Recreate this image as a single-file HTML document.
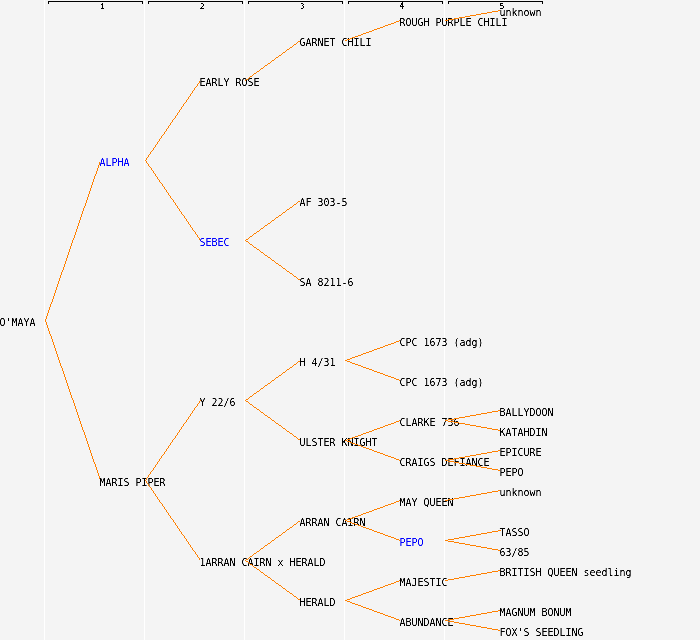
<!DOCTYPE html>
<html lang="en"><head><meta charset="utf-8"><title>Pedigree of O'MAYA</title>
<style>
html,body{margin:0;padding:0;background:#f4f4f4;overflow:hidden}
svg{display:block;shape-rendering:crispEdges}
text{font-family:"DejaVu Sans Mono", "Liberation Mono", monospace;font-size:9.967px;fill:#000;white-space:pre;}
text.b{fill:#00f;}
text.t{font-family:"DejaVu Sans Mono", "Liberation Mono", monospace;font-size:8.2px;font-weight:normal;stroke:none}
path.o{fill:#ff8000}
</style></head><body>
<svg width="700" height="640" viewBox="0 0 700 640">
<defs><filter id="f" filterUnits="userSpaceOnUse" x="0" y="0" width="700" height="640" color-interpolation-filters="sRGB"><feComponentTransfer><feFuncA type="table" tableValues="0 0 0.6 1 1"/></feComponentTransfer></filter><filter id="f2" filterUnits="userSpaceOnUse" x="0" y="0" width="700" height="12" color-interpolation-filters="sRGB"><feComponentTransfer><feFuncA type="discrete" tableValues="0 1"/></feComponentTransfer></filter><filter id="f3" filterUnits="userSpaceOnUse" x="0" y="0" width="700" height="12" color-interpolation-filters="sRGB"><feComponentTransfer><feFuncA type="discrete" tableValues="0 0 1 1 1"/></feComponentTransfer></filter></defs><rect width="700" height="640" fill="#f4f4f4"/>
<g><rect x="44" y="0" width="1" height="640" fill="#fff"/><path d="M48 1h95v3h-1v-2h-93v2h-1z"/><rect x="144" y="0" width="1" height="640" fill="#fff"/><path d="M148 1h95v3h-1v-2h-93v2h-1z"/><rect x="244" y="0" width="1" height="640" fill="#fff"/><path d="M248 1h95v3h-1v-2h-93v2h-1z"/><rect x="344" y="0" width="1" height="640" fill="#fff"/><path d="M348 1h95v3h-1v-2h-93v2h-1z"/><rect x="444" y="0" width="1" height="640" fill="#fff"/><path d="M448 1h95v3h-1v-2h-93v2h-1z"/></g>
<g><text class="t" filter="url(#f3)" style="font-size:7px;font-weight:bold" transform="scale(1,1.1)" x="100.25" y="7.955">1</text><text class="t" filter="url(#f3)" style="font-size:7px;font-weight:normal" transform="scale(1,1.1)" x="200" y="7.955">2</text><text class="t" filter="url(#f2)" style="font-size:7px;font-weight:normal" transform="scale(1,1.2)" x="300.25" y="7.292">3</text><text class="t" filter="url(#f3)" style="font-size:7.5px;font-weight:bold" transform="scale(1,1.2)" x="399.5" y="7.292">4</text><text class="t" filter="url(#f3)" style="font-size:7.5px;font-weight:normal" transform="scale(1,1.1)" x="499.75" y="7.955">5</text></g>
<g filter="url(#f)">
<text transform="scale(1,1.1)" x="-0.5" y="296.4">O'MAYA</text>
<path class="o" d="M45 319h1v2h-1zM46 316h1v3h-1zM47 313h1v3h-1zM48 310h1v3h-1zM49 307h1v3h-1zM50 304h1v3h-1zM51 302h1v2h-1zM52 299h1v3h-1zM53 296h1v3h-1zM54 293h1v3h-1zM55 290h1v3h-1zM56 287h1v3h-1zM57 284h1v3h-1zM58 281h1v3h-1zM59 278h1v3h-1zM60 275h1v3h-1zM61 272h1v3h-1zM62 270h1v2h-1zM63 267h1v3h-1zM64 264h1v3h-1zM65 261h1v3h-1zM66 258h1v3h-1zM67 255h1v3h-1zM68 252h1v3h-1zM69 249h1v3h-1zM70 246h1v3h-1zM71 243h1v3h-1zM72 240h1v3h-1zM73 238h1v2h-1zM74 235h1v3h-1zM75 232h1v3h-1zM76 229h1v3h-1zM77 226h1v3h-1zM78 223h1v3h-1zM79 220h1v3h-1zM80 217h1v3h-1zM81 214h1v3h-1zM82 211h1v3h-1zM83 208h1v3h-1zM84 206h1v2h-1zM85 203h1v3h-1zM86 200h1v3h-1zM87 197h1v3h-1zM88 194h1v3h-1zM89 191h1v3h-1zM90 188h1v3h-1zM91 185h1v3h-1zM92 182h1v3h-1zM93 179h1v3h-1zM94 176h1v3h-1zM95 174h1v2h-1zM96 171h1v3h-1zM97 168h1v3h-1zM98 165h1v3h-1zM99 162h1v3h-1z"/>
<text class="b" transform="scale(1,1.1)" x="99.5" y="150.9">ALPHA</text>
<path class="o" d="M145 160h1v1h-1zM146 158h1v2h-1zM147 157h1v1h-1zM148 155h1v2h-1zM149 154h1v1h-1zM150 152h1v2h-1zM151 151h1v1h-1zM152 150h1v1h-1zM153 148h1v2h-1zM154 147h1v1h-1zM155 145h1v2h-1zM156 144h1v1h-1zM157 142h1v2h-1zM158 141h1v1h-1zM159 139h1v2h-1zM160 138h1v1h-1zM161 136h1v2h-1zM162 135h1v1h-1zM163 134h1v1h-1zM164 132h1v2h-1zM165 131h1v1h-1zM166 129h1v2h-1zM167 128h1v1h-1zM168 126h1v2h-1zM169 125h1v1h-1zM170 123h1v2h-1zM171 122h1v1h-1zM172 120h1v2h-1zM173 119h1v1h-1zM174 118h1v1h-1zM175 116h1v2h-1zM176 115h1v1h-1zM177 113h1v2h-1zM178 112h1v1h-1zM179 110h1v2h-1zM180 109h1v1h-1zM181 107h1v2h-1zM182 106h1v1h-1zM183 104h1v2h-1zM184 103h1v1h-1zM185 102h1v1h-1zM186 100h1v2h-1zM187 99h1v1h-1zM188 97h1v2h-1zM189 96h1v1h-1zM190 94h1v2h-1zM191 93h1v1h-1zM192 91h1v2h-1zM193 90h1v1h-1zM194 88h1v2h-1zM195 87h1v1h-1zM196 86h1v1h-1zM197 84h1v2h-1zM198 83h1v1h-1zM199 81h1v2h-1z"/>
<text transform="scale(1,1.1)" x="199.5" y="78.18">EARLY ROSE</text>
<path class="o" d="M298 41h2v1h-2zM297 42h1v1h-1zM296 43h1v1h-1zM294 44h2v1h-2zM293 45h1v1h-1zM292 46h1v1h-1zM290 47h2v1h-2zM289 48h1v1h-1zM287 49h2v1h-2zM286 50h1v1h-1zM285 51h1v1h-1zM283 52h2v1h-2zM282 53h1v1h-1zM281 54h1v1h-1zM279 55h2v1h-2zM278 56h1v1h-1zM276 57h2v1h-2zM275 58h1v1h-1zM274 59h1v1h-1zM272 60h2v1h-2zM271 61h1v1h-1zM270 62h1v1h-1zM268 63h2v1h-2zM267 64h1v1h-1zM265 65h2v1h-2zM264 66h1v1h-1zM263 67h1v1h-1zM261 68h2v1h-2zM260 69h1v1h-1zM259 70h1v1h-1zM257 71h2v1h-2zM256 72h1v1h-1zM254 73h2v1h-2zM253 74h1v1h-1zM252 75h1v1h-1zM250 76h2v1h-2zM249 77h1v1h-1zM248 78h1v1h-1zM246 79h2v1h-2zM245 80h1v1h-1z"/>
<text transform="scale(1,1.1)" x="299.5" y="41.82">GARNET CHILI</text>
<path class="o" d="M399 20h1v1h-1zM396 21h3v1h-3zM394 22h2v1h-2zM391 23h3v1h-3zM388 24h3v1h-3zM385 25h3v1h-3zM383 26h2v1h-2zM380 27h3v1h-3zM377 28h3v1h-3zM374 29h3v1h-3zM372 30h2v1h-2zM369 31h3v1h-3zM366 32h3v1h-3zM363 33h3v1h-3zM361 34h2v1h-2zM358 35h3v1h-3zM355 36h3v1h-3zM352 37h3v1h-3zM350 38h2v1h-2zM347 39h3v1h-3zM345 40h2v1h-2z"/>
<text transform="scale(1,1.1)" x="399.5" y="23.64">ROUGH PURPLE CHILI</text>
<path class="o" d="M498 10h2v1h-2zM492 11h6v1h-6zM487 12h5v1h-5zM481 13h6v1h-6zM476 14h5v1h-5zM470 15h6v1h-6zM465 16h5v1h-5zM459 17h6v1h-6zM454 18h5v1h-5zM448 19h6v1h-6zM445 20h3v1h-3z"/>
<text transform="scale(1,1.1)" x="499.5" y="14.55">unknown</text>
<path class="o" d="M145 160h1v1h-1zM146 161h1v2h-1zM147 163h1v1h-1zM148 164h1v2h-1zM149 166h1v1h-1zM150 167h1v1h-1zM151 168h1v2h-1zM152 170h1v1h-1zM153 171h1v2h-1zM154 173h1v1h-1zM155 174h1v2h-1zM156 176h1v1h-1zM157 177h1v2h-1zM158 179h1v1h-1zM159 180h1v2h-1zM160 182h1v1h-1zM161 183h1v1h-1zM162 184h1v2h-1zM163 186h1v1h-1zM164 187h1v2h-1zM165 189h1v1h-1zM166 190h1v2h-1zM167 192h1v1h-1zM168 193h1v2h-1zM169 195h1v1h-1zM170 196h1v2h-1zM171 198h1v1h-1zM172 199h1v1h-1zM173 200h1v2h-1zM174 202h1v1h-1zM175 203h1v2h-1zM176 205h1v1h-1zM177 206h1v2h-1zM178 208h1v1h-1zM179 209h1v2h-1zM180 211h1v1h-1zM181 212h1v2h-1zM182 214h1v1h-1zM183 215h1v1h-1zM184 216h1v2h-1zM185 218h1v1h-1zM186 219h1v2h-1zM187 221h1v1h-1zM188 222h1v2h-1zM189 224h1v1h-1zM190 225h1v2h-1zM191 227h1v1h-1zM192 228h1v2h-1zM193 230h1v1h-1zM194 231h1v1h-1zM195 232h1v2h-1zM196 234h1v1h-1zM197 235h1v2h-1zM198 237h1v1h-1zM199 238h1v2h-1z"/>
<text class="b" transform="scale(1,1.1)" x="199.5" y="223.6">SEBEC</text>
<path class="o" d="M298 201h2v1h-2zM297 202h1v1h-1zM296 203h1v1h-1zM294 204h2v1h-2zM293 205h1v1h-1zM292 206h1v1h-1zM290 207h2v1h-2zM289 208h1v1h-1zM287 209h2v1h-2zM286 210h1v1h-1zM285 211h1v1h-1zM283 212h2v1h-2zM282 213h1v1h-1zM281 214h1v1h-1zM279 215h2v1h-2zM278 216h1v1h-1zM276 217h2v1h-2zM275 218h1v1h-1zM274 219h1v1h-1zM272 220h2v1h-2zM271 221h1v1h-1zM270 222h1v1h-1zM268 223h2v1h-2zM267 224h1v1h-1zM265 225h2v1h-2zM264 226h1v1h-1zM263 227h1v1h-1zM261 228h2v1h-2zM260 229h1v1h-1zM259 230h1v1h-1zM257 231h2v1h-2zM256 232h1v1h-1zM254 233h2v1h-2zM253 234h1v1h-1zM252 235h1v1h-1zM250 236h2v1h-2zM249 237h1v1h-1zM248 238h1v1h-1zM246 239h2v1h-2zM245 240h1v1h-1z"/>
<text transform="scale(1,1.1)" x="299.5" y="187.3">AF 303-5</text>
<path class="o" d="M245 240h1v1h-1zM246 241h2v1h-2zM248 242h1v1h-1zM249 243h1v1h-1zM250 244h2v1h-2zM252 245h1v1h-1zM253 246h1v1h-1zM254 247h2v1h-2zM256 248h1v1h-1zM257 249h2v1h-2zM259 250h1v1h-1zM260 251h1v1h-1zM261 252h2v1h-2zM263 253h1v1h-1zM264 254h1v1h-1zM265 255h2v1h-2zM267 256h1v1h-1zM268 257h2v1h-2zM270 258h1v1h-1zM271 259h1v1h-1zM272 260h2v1h-2zM274 261h1v1h-1zM275 262h1v1h-1zM276 263h2v1h-2zM278 264h1v1h-1zM279 265h2v1h-2zM281 266h1v1h-1zM282 267h1v1h-1zM283 268h2v1h-2zM285 269h1v1h-1zM286 270h1v1h-1zM287 271h2v1h-2zM289 272h1v1h-1zM290 273h2v1h-2zM292 274h1v1h-1zM293 275h1v1h-1zM294 276h2v1h-2zM296 277h1v1h-1zM297 278h1v1h-1zM298 279h2v1h-2z"/>
<text transform="scale(1,1.1)" x="299.5" y="260">SA 8211-6</text>
<path class="o" d="M45 320h1v2h-1zM46 322h1v3h-1zM47 325h1v3h-1zM48 328h1v3h-1zM49 331h1v3h-1zM50 334h1v2h-1zM51 336h1v3h-1zM52 339h1v3h-1zM53 342h1v3h-1zM54 345h1v3h-1zM55 348h1v3h-1zM56 351h1v3h-1zM57 354h1v3h-1zM58 357h1v3h-1zM59 360h1v3h-1zM60 363h1v3h-1zM61 366h1v2h-1zM62 368h1v3h-1zM63 371h1v3h-1zM64 374h1v3h-1zM65 377h1v3h-1zM66 380h1v3h-1zM67 383h1v3h-1zM68 386h1v3h-1zM69 389h1v3h-1zM70 392h1v3h-1zM71 395h1v3h-1zM72 398h1v2h-1zM73 400h1v3h-1zM74 403h1v3h-1zM75 406h1v3h-1zM76 409h1v3h-1zM77 412h1v3h-1zM78 415h1v3h-1zM79 418h1v3h-1zM80 421h1v3h-1zM81 424h1v3h-1zM82 427h1v3h-1zM83 430h1v2h-1zM84 432h1v3h-1zM85 435h1v3h-1zM86 438h1v3h-1zM87 441h1v3h-1zM88 444h1v3h-1zM89 447h1v3h-1zM90 450h1v3h-1zM91 453h1v3h-1zM92 456h1v3h-1zM93 459h1v3h-1zM94 462h1v2h-1zM95 464h1v3h-1zM96 467h1v3h-1zM97 470h1v3h-1zM98 473h1v3h-1zM99 476h1v3h-1z"/>
<text transform="scale(1,1.1)" x="99.5" y="441.8">MARIS PIPER</text>
<path class="o" d="M145 480h1v1h-1zM146 478h1v2h-1zM147 477h1v1h-1zM148 475h1v2h-1zM149 474h1v1h-1zM150 472h1v2h-1zM151 471h1v1h-1zM152 470h1v1h-1zM153 468h1v2h-1zM154 467h1v1h-1zM155 465h1v2h-1zM156 464h1v1h-1zM157 462h1v2h-1zM158 461h1v1h-1zM159 459h1v2h-1zM160 458h1v1h-1zM161 456h1v2h-1zM162 455h1v1h-1zM163 454h1v1h-1zM164 452h1v2h-1zM165 451h1v1h-1zM166 449h1v2h-1zM167 448h1v1h-1zM168 446h1v2h-1zM169 445h1v1h-1zM170 443h1v2h-1zM171 442h1v1h-1zM172 440h1v2h-1zM173 439h1v1h-1zM174 438h1v1h-1zM175 436h1v2h-1zM176 435h1v1h-1zM177 433h1v2h-1zM178 432h1v1h-1zM179 430h1v2h-1zM180 429h1v1h-1zM181 427h1v2h-1zM182 426h1v1h-1zM183 424h1v2h-1zM184 423h1v1h-1zM185 422h1v1h-1zM186 420h1v2h-1zM187 419h1v1h-1zM188 417h1v2h-1zM189 416h1v1h-1zM190 414h1v2h-1zM191 413h1v1h-1zM192 411h1v2h-1zM193 410h1v1h-1zM194 408h1v2h-1zM195 407h1v1h-1zM196 406h1v1h-1zM197 404h1v2h-1zM198 403h1v1h-1zM199 401h1v2h-1zM200 400h1v1h-1z"/>
<text transform="scale(1,1.1)" x="199.5" y="369.1">Y 22/6</text>
<path class="o" d="M298 361h2v1h-2zM297 362h1v1h-1zM296 363h1v1h-1zM294 364h2v1h-2zM293 365h1v1h-1zM292 366h1v1h-1zM290 367h2v1h-2zM289 368h1v1h-1zM287 369h2v1h-2zM286 370h1v1h-1zM285 371h1v1h-1zM283 372h2v1h-2zM282 373h1v1h-1zM281 374h1v1h-1zM279 375h2v1h-2zM278 376h1v1h-1zM276 377h2v1h-2zM275 378h1v1h-1zM274 379h1v1h-1zM272 380h2v1h-2zM271 381h1v1h-1zM270 382h1v1h-1zM268 383h2v1h-2zM267 384h1v1h-1zM265 385h2v1h-2zM264 386h1v1h-1zM263 387h1v1h-1zM261 388h2v1h-2zM260 389h1v1h-1zM259 390h1v1h-1zM257 391h2v1h-2zM256 392h1v1h-1zM254 393h2v1h-2zM253 394h1v1h-1zM252 395h1v1h-1zM250 396h2v1h-2zM249 397h1v1h-1zM248 398h1v1h-1zM246 399h2v1h-2zM245 400h1v1h-1z"/>
<text transform="scale(1,1.1)" x="299.5" y="332.7">H 4/31</text>
<path class="o" d="M399 340h1v1h-1zM396 341h3v1h-3zM394 342h2v1h-2zM391 343h3v1h-3zM388 344h3v1h-3zM385 345h3v1h-3zM383 346h2v1h-2zM380 347h3v1h-3zM377 348h3v1h-3zM374 349h3v1h-3zM372 350h2v1h-2zM369 351h3v1h-3zM366 352h3v1h-3zM363 353h3v1h-3zM361 354h2v1h-2zM358 355h3v1h-3zM355 356h3v1h-3zM352 357h3v1h-3zM350 358h2v1h-2zM347 359h3v1h-3zM345 360h2v1h-2z"/>
<text transform="scale(1,1.1)" x="399.5" y="314.5">CPC 1673 (adg)</text>
<path class="o" d="M345 360h2v1h-2zM347 361h3v1h-3zM350 362h2v1h-2zM352 363h3v1h-3zM355 364h3v1h-3zM358 365h3v1h-3zM361 366h2v1h-2zM363 367h3v1h-3zM366 368h3v1h-3zM369 369h3v1h-3zM372 370h2v1h-2zM374 371h3v1h-3zM377 372h3v1h-3zM380 373h3v1h-3zM383 374h2v1h-2zM385 375h3v1h-3zM388 376h3v1h-3zM391 377h3v1h-3zM394 378h2v1h-2zM396 379h3v1h-3zM399 380h1v1h-1z"/>
<text transform="scale(1,1.1)" x="399.5" y="350.9">CPC 1673 (adg)</text>
<path class="o" d="M245 400h1v1h-1zM246 401h2v1h-2zM248 402h1v1h-1zM249 403h1v1h-1zM250 404h2v1h-2zM252 405h1v1h-1zM253 406h1v1h-1zM254 407h2v1h-2zM256 408h1v1h-1zM257 409h2v1h-2zM259 410h1v1h-1zM260 411h1v1h-1zM261 412h2v1h-2zM263 413h1v1h-1zM264 414h1v1h-1zM265 415h2v1h-2zM267 416h1v1h-1zM268 417h2v1h-2zM270 418h1v1h-1zM271 419h1v1h-1zM272 420h2v1h-2zM274 421h1v1h-1zM275 422h1v1h-1zM276 423h2v1h-2zM278 424h1v1h-1zM279 425h2v1h-2zM281 426h1v1h-1zM282 427h1v1h-1zM283 428h2v1h-2zM285 429h1v1h-1zM286 430h1v1h-1zM287 431h2v1h-2zM289 432h1v1h-1zM290 433h2v1h-2zM292 434h1v1h-1zM293 435h1v1h-1zM294 436h2v1h-2zM296 437h1v1h-1zM297 438h1v1h-1zM298 439h2v1h-2z"/>
<text transform="scale(1,1.1)" x="299.5" y="405.5">ULSTER KNIGHT</text>
<path class="o" d="M399 420h1v1h-1zM396 421h3v1h-3zM394 422h2v1h-2zM391 423h3v1h-3zM388 424h3v1h-3zM385 425h3v1h-3zM383 426h2v1h-2zM380 427h3v1h-3zM377 428h3v1h-3zM374 429h3v1h-3zM372 430h2v1h-2zM369 431h3v1h-3zM366 432h3v1h-3zM363 433h3v1h-3zM361 434h2v1h-2zM358 435h3v1h-3zM355 436h3v1h-3zM352 437h3v1h-3zM350 438h2v1h-2zM347 439h3v1h-3zM345 440h2v1h-2z"/>
<text transform="scale(1,1.1)" x="399.5" y="387.3">CLARKE 736</text>
<path class="o" d="M498 410h2v1h-2zM492 411h6v1h-6zM487 412h5v1h-5zM481 413h6v1h-6zM476 414h5v1h-5zM470 415h6v1h-6zM465 416h5v1h-5zM459 417h6v1h-6zM454 418h5v1h-5zM448 419h6v1h-6zM445 420h3v1h-3z"/>
<text transform="scale(1,1.1)" x="499.5" y="378.2">BALLYDOON</text>
<path class="o" d="M445 420h3v1h-3zM448 421h6v1h-6zM454 422h5v1h-5zM459 423h6v1h-6zM465 424h5v1h-5zM470 425h6v1h-6zM476 426h5v1h-5zM481 427h6v1h-6zM487 428h5v1h-5zM492 429h6v1h-6zM498 430h2v1h-2z"/>
<text transform="scale(1,1.1)" x="499.5" y="396.4">KATAHDIN</text>
<path class="o" d="M345 440h2v1h-2zM347 441h3v1h-3zM350 442h2v1h-2zM352 443h3v1h-3zM355 444h3v1h-3zM358 445h3v1h-3zM361 446h2v1h-2zM363 447h3v1h-3zM366 448h3v1h-3zM369 449h3v1h-3zM372 450h2v1h-2zM374 451h3v1h-3zM377 452h3v1h-3zM380 453h3v1h-3zM383 454h2v1h-2zM385 455h3v1h-3zM388 456h3v1h-3zM391 457h3v1h-3zM394 458h2v1h-2zM396 459h3v1h-3zM399 460h1v1h-1z"/>
<text transform="scale(1,1.1)" x="399.5" y="423.6">CRAIGS DEFIANCE</text>
<path class="o" d="M498 450h2v1h-2zM492 451h6v1h-6zM487 452h5v1h-5zM481 453h6v1h-6zM476 454h5v1h-5zM470 455h6v1h-6zM465 456h5v1h-5zM459 457h6v1h-6zM454 458h5v1h-5zM448 459h6v1h-6zM445 460h3v1h-3z"/>
<text transform="scale(1,1.1)" x="499.5" y="414.5">EPICURE</text>
<path class="o" d="M445 460h3v1h-3zM448 461h6v1h-6zM454 462h5v1h-5zM459 463h6v1h-6zM465 464h5v1h-5zM470 465h6v1h-6zM476 466h5v1h-5zM481 467h6v1h-6zM487 468h5v1h-5zM492 469h6v1h-6zM498 470h2v1h-2z"/>
<text transform="scale(1,1.1)" x="499.5" y="432.7">PEPO</text>
<path class="o" d="M145 480h1v1h-1zM146 481h1v2h-1zM147 483h1v1h-1zM148 484h1v2h-1zM149 486h1v1h-1zM150 487h1v1h-1zM151 488h1v2h-1zM152 490h1v1h-1zM153 491h1v2h-1zM154 493h1v1h-1zM155 494h1v2h-1zM156 496h1v1h-1zM157 497h1v2h-1zM158 499h1v1h-1zM159 500h1v2h-1zM160 502h1v1h-1zM161 503h1v1h-1zM162 504h1v2h-1zM163 506h1v1h-1zM164 507h1v2h-1zM165 509h1v1h-1zM166 510h1v2h-1zM167 512h1v1h-1zM168 513h1v2h-1zM169 515h1v1h-1zM170 516h1v2h-1zM171 518h1v1h-1zM172 519h1v1h-1zM173 520h1v2h-1zM174 522h1v1h-1zM175 523h1v2h-1zM176 525h1v1h-1zM177 526h1v2h-1zM178 528h1v1h-1zM179 529h1v2h-1zM180 531h1v1h-1zM181 532h1v2h-1zM182 534h1v1h-1zM183 535h1v1h-1zM184 536h1v2h-1zM185 538h1v1h-1zM186 539h1v2h-1zM187 541h1v1h-1zM188 542h1v2h-1zM189 544h1v1h-1zM190 545h1v2h-1zM191 547h1v1h-1zM192 548h1v2h-1zM193 550h1v1h-1zM194 551h1v1h-1zM195 552h1v2h-1zM196 554h1v1h-1zM197 555h1v2h-1zM198 557h1v1h-1zM199 558h1v2h-1z"/>
<text transform="scale(1,1.1)" x="199.5" y="514.5">1ARRAN CAIRN x HERALD</text>
<path class="o" d="M298 521h2v1h-2zM297 522h1v1h-1zM296 523h1v1h-1zM294 524h2v1h-2zM293 525h1v1h-1zM292 526h1v1h-1zM290 527h2v1h-2zM289 528h1v1h-1zM287 529h2v1h-2zM286 530h1v1h-1zM285 531h1v1h-1zM283 532h2v1h-2zM282 533h1v1h-1zM281 534h1v1h-1zM279 535h2v1h-2zM278 536h1v1h-1zM276 537h2v1h-2zM275 538h1v1h-1zM274 539h1v1h-1zM272 540h2v1h-2zM271 541h1v1h-1zM270 542h1v1h-1zM268 543h2v1h-2zM267 544h1v1h-1zM265 545h2v1h-2zM264 546h1v1h-1zM263 547h1v1h-1zM261 548h2v1h-2zM260 549h1v1h-1zM259 550h1v1h-1zM257 551h2v1h-2zM256 552h1v1h-1zM254 553h2v1h-2zM253 554h1v1h-1zM252 555h1v1h-1zM250 556h2v1h-2zM249 557h1v1h-1zM248 558h1v1h-1zM246 559h2v1h-2zM245 560h1v1h-1z"/>
<text transform="scale(1,1.1)" x="299.5" y="478.2">ARRAN CAIRN</text>
<path class="o" d="M399 500h1v1h-1zM396 501h3v1h-3zM394 502h2v1h-2zM391 503h3v1h-3zM388 504h3v1h-3zM385 505h3v1h-3zM383 506h2v1h-2zM380 507h3v1h-3zM377 508h3v1h-3zM374 509h3v1h-3zM372 510h2v1h-2zM369 511h3v1h-3zM366 512h3v1h-3zM363 513h3v1h-3zM361 514h2v1h-2zM358 515h3v1h-3zM355 516h3v1h-3zM352 517h3v1h-3zM350 518h2v1h-2zM347 519h3v1h-3zM345 520h2v1h-2z"/>
<text transform="scale(1,1.1)" x="399.5" y="460">MAY QUEEN</text>
<path class="o" d="M498 490h2v1h-2zM492 491h6v1h-6zM487 492h5v1h-5zM481 493h6v1h-6zM476 494h5v1h-5zM470 495h6v1h-6zM465 496h5v1h-5zM459 497h6v1h-6zM454 498h5v1h-5zM448 499h6v1h-6zM445 500h3v1h-3z"/>
<text transform="scale(1,1.1)" x="499.5" y="450.9">unknown</text>
<path class="o" d="M345 520h2v1h-2zM347 521h3v1h-3zM350 522h2v1h-2zM352 523h3v1h-3zM355 524h3v1h-3zM358 525h3v1h-3zM361 526h2v1h-2zM363 527h3v1h-3zM366 528h3v1h-3zM369 529h3v1h-3zM372 530h2v1h-2zM374 531h3v1h-3zM377 532h3v1h-3zM380 533h3v1h-3zM383 534h2v1h-2zM385 535h3v1h-3zM388 536h3v1h-3zM391 537h3v1h-3zM394 538h2v1h-2zM396 539h3v1h-3zM399 540h1v1h-1z"/>
<text class="b" transform="scale(1,1.1)" x="399.5" y="496.4">PEPO</text>
<path class="o" d="M498 530h3v1h-3zM492 531h6v1h-6zM487 532h5v1h-5zM481 533h6v1h-6zM476 534h5v1h-5zM470 535h6v1h-6zM465 536h5v1h-5zM459 537h6v1h-6zM454 538h5v1h-5zM448 539h6v1h-6zM445 540h3v1h-3z"/>
<text transform="scale(1,1.1)" x="499.5" y="487.3">TASSO</text>
<path class="o" d="M445 540h3v1h-3zM448 541h6v1h-6zM454 542h5v1h-5zM459 543h6v1h-6zM465 544h5v1h-5zM470 545h6v1h-6zM476 546h5v1h-5zM481 547h6v1h-6zM487 548h5v1h-5zM492 549h6v1h-6zM498 550h2v1h-2z"/>
<text transform="scale(1,1.1)" x="499.5" y="505.5">63/85</text>
<path class="o" d="M245 560h1v1h-1zM246 561h2v1h-2zM248 562h1v1h-1zM249 563h1v1h-1zM250 564h2v1h-2zM252 565h1v1h-1zM253 566h1v1h-1zM254 567h2v1h-2zM256 568h1v1h-1zM257 569h2v1h-2zM259 570h1v1h-1zM260 571h1v1h-1zM261 572h2v1h-2zM263 573h1v1h-1zM264 574h1v1h-1zM265 575h2v1h-2zM267 576h1v1h-1zM268 577h2v1h-2zM270 578h1v1h-1zM271 579h1v1h-1zM272 580h2v1h-2zM274 581h1v1h-1zM275 582h1v1h-1zM276 583h2v1h-2zM278 584h1v1h-1zM279 585h2v1h-2zM281 586h1v1h-1zM282 587h1v1h-1zM283 588h2v1h-2zM285 589h1v1h-1zM286 590h1v1h-1zM287 591h2v1h-2zM289 592h1v1h-1zM290 593h2v1h-2zM292 594h1v1h-1zM293 595h1v1h-1zM294 596h2v1h-2zM296 597h1v1h-1zM297 598h1v1h-1zM298 599h2v1h-2z"/>
<text transform="scale(1,1.1)" x="299.5" y="550.9">HERALD</text>
<path class="o" d="M399 580h1v1h-1zM396 581h3v1h-3zM394 582h2v1h-2zM391 583h3v1h-3zM388 584h3v1h-3zM385 585h3v1h-3zM383 586h2v1h-2zM380 587h3v1h-3zM377 588h3v1h-3zM374 589h3v1h-3zM372 590h2v1h-2zM369 591h3v1h-3zM366 592h3v1h-3zM363 593h3v1h-3zM361 594h2v1h-2zM358 595h3v1h-3zM355 596h3v1h-3zM352 597h3v1h-3zM350 598h2v1h-2zM347 599h3v1h-3zM345 600h2v1h-2z"/>
<text transform="scale(1,1.1)" x="399.5" y="532.7">MAJESTIC</text>
<path class="o" d="M498 570h2v1h-2zM492 571h6v1h-6zM487 572h5v1h-5zM481 573h6v1h-6zM476 574h5v1h-5zM470 575h6v1h-6zM465 576h5v1h-5zM459 577h6v1h-6zM454 578h5v1h-5zM448 579h6v1h-6zM445 580h3v1h-3z"/>
<text transform="scale(1,1.1)" x="499.5" y="523.6">BRITISH QUEEN seedling</text>
<path class="o" d="M345 600h2v1h-2zM347 601h3v1h-3zM350 602h2v1h-2zM352 603h3v1h-3zM355 604h3v1h-3zM358 605h3v1h-3zM361 606h2v1h-2zM363 607h3v1h-3zM366 608h3v1h-3zM369 609h3v1h-3zM372 610h2v1h-2zM374 611h3v1h-3zM377 612h3v1h-3zM380 613h3v1h-3zM383 614h2v1h-2zM385 615h3v1h-3zM388 616h3v1h-3zM391 617h3v1h-3zM394 618h2v1h-2zM396 619h3v1h-3zM399 620h1v1h-1z"/>
<text transform="scale(1,1.1)" x="399.5" y="569.1">ABUNDANCE</text>
<path class="o" d="M498 610h2v1h-2zM492 611h6v1h-6zM487 612h5v1h-5zM481 613h6v1h-6zM476 614h5v1h-5zM470 615h6v1h-6zM465 616h5v1h-5zM459 617h6v1h-6zM454 618h5v1h-5zM448 619h6v1h-6zM445 620h3v1h-3z"/>
<text transform="scale(1,1.1)" x="499.5" y="560">MAGNUM BONUM</text>
<path class="o" d="M445 620h3v1h-3zM448 621h6v1h-6zM454 622h5v1h-5zM459 623h6v1h-6zM465 624h5v1h-5zM470 625h6v1h-6zM476 626h5v1h-5zM481 627h6v1h-6zM487 628h5v1h-5zM492 629h6v1h-6zM498 630h2v1h-2z"/>
<text transform="scale(1,1.1)" x="499.5" y="578.2">FOX'S SEEDLING</text>
</g>
</svg>
</body></html>
